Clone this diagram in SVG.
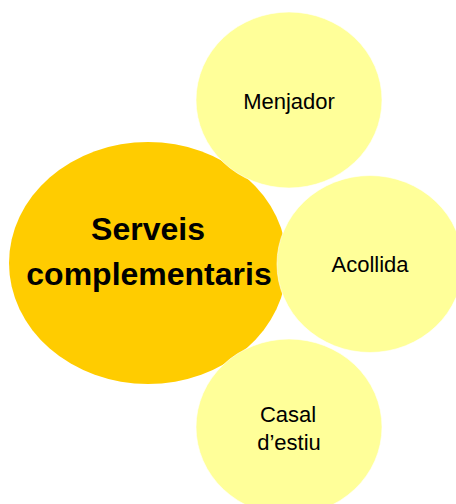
<svg xmlns="http://www.w3.org/2000/svg" width="456" height="504" viewBox="0 0 456 504">
<style>
.main{fill:#FFCC00}
.sub{fill:#FFFF99;stroke:#FFFFFF;stroke-width:1;stroke-opacity:0.6}
.t{font-family:"Liberation Sans",Arial,sans-serif;fill:#000;text-anchor:middle}
.big{font-size:32px;font-weight:bold}
.small{font-size:22px}
</style>
<rect width="456" height="504" fill="#FFFFFF"/>
<g id="connectors"></g>
<g id="center">
<ellipse class="main" cx="148" cy="263" rx="139" ry="121"/>
<text class="t big" x="148" y="240">Serveis</text>
<text class="t big" x="149" y="285">complementaris</text>
</g>
<g id="menjador">
<ellipse class="sub" cx="289" cy="100" rx="93" ry="88"/>
<text class="t small" x="289" y="109">Menjador</text>
</g>
<g id="acollida">
<ellipse class="sub" cx="370" cy="264" rx="93" ry="88.5"/>
<text class="t small" x="370" y="272">Acollida</text>
</g>
<g id="casal">
<ellipse class="sub" cx="289" cy="427" rx="93" ry="88"/>
<text class="t small" x="288" y="422">Casal</text>
<text class="t small" x="289" y="450">d’estiu</text>
</g>
</svg>
